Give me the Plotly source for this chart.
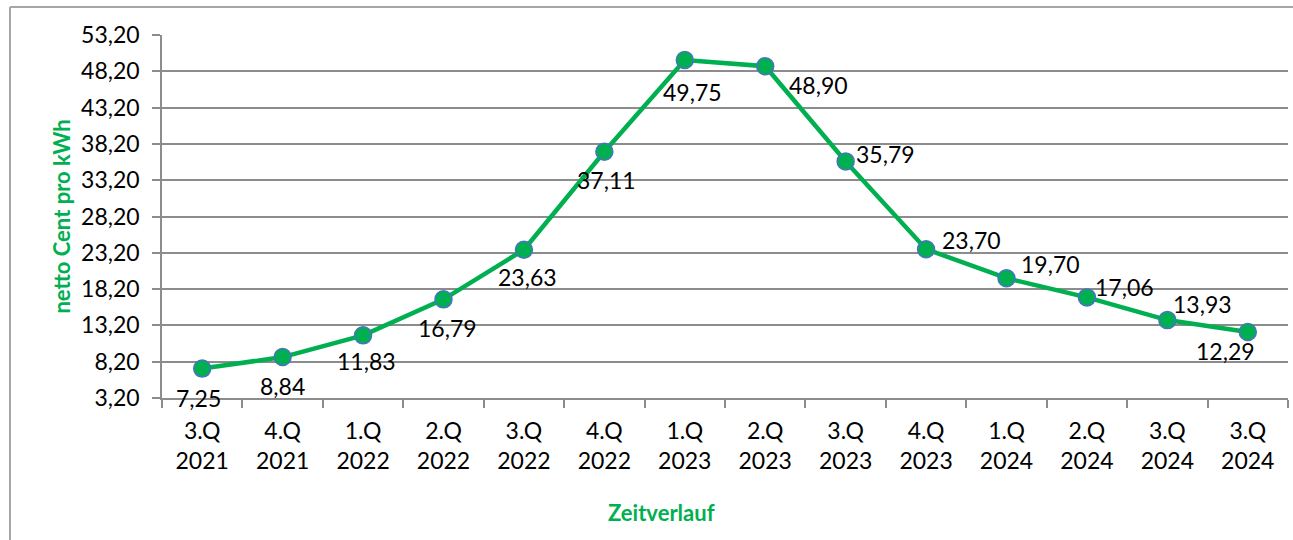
import plotly.graph_objects as go

# Quarterly net price, cents per kWh
quarters = ["3.Q<br>2021", "4.Q<br>2021", "1.Q<br>2022", "2.Q<br>2022", "3.Q<br>2022",
            "4.Q<br>2022", "1.Q<br>2023", "2.Q<br>2023", "3.Q<br>2023", "4.Q<br>2023",
            "1.Q<br>2024", "2.Q<br>2024", "3.Q<br>2024", "3.Q<br>2024"]
prices = [7.25, 8.84, 11.83, 16.79, 23.63, 37.11, 49.75, 48.90, 35.79, 23.70,
          19.70, 17.06, 13.93, 12.29]
y_ticks = [3.2, 8.2, 13.2, 18.2, 23.2, 28.2, 33.2, 38.2, 43.2, 48.2, 53.2]

# label placement (pixel shifts relative to each point)
label_dx = [-4, 0, 3, 4, 4, 2, 8, 53, 40, 45, 44, 38, 35, -22]
label_dy = [-29, -29, -26, -29, -27, -28, -32, -19, 7, 9, 14, 10, 16, -19]

GREEN = "#00B050"
GRID = "#8C8C8C"
FONT = "Lato"
TXT = 23

def de(v):
    return f"{v:.2f}".replace(".", ",")

xs = list(range(len(prices)))

fig = go.Figure()
fig.add_trace(go.Scatter(
    x=xs, y=prices, mode="lines+markers",
    line=dict(color=GREEN, width=4.5),
    marker=dict(size=17, color=GREEN, line=dict(color="#4A72C4", width=1.5)),
    hoverinfo="skip", showlegend=False,
))

for x, v, dx, dy in zip(xs, prices, label_dx, label_dy):
    fig.add_annotation(x=x, y=v, text=de(v), showarrow=False,
                       xshift=dx, yshift=dy,
                       font=dict(family=FONT, size=TXT, color="black"))

W, H = 1293, 540
ml, mr, mt, mb = 162, 5, 35, 142
pw, ph = W - ml - mr, H - mt - mb

def px(x):
    return (x - ml) / pw

def py(y):
    return (H - mb - y) / ph

# chart frame (left and top edges)
frame = dict(color="#A6A6A6", width=2)
fig.add_shape(type="line", xref="paper", yref="paper",
              x0=px(10), x1=px(10), y0=py(7), y1=py(560), line=frame)
fig.add_shape(type="line", xref="paper", yref="paper",
              x0=px(10), x1=px(1310), y0=py(7), y1=py(7), line=frame)

fig.add_annotation(xref="paper", yref="paper", x=px(661), y=py(512),
                   xanchor="center", yanchor="middle",
                   text="<b>Zeitverlauf</b>", showarrow=False,
                   font=dict(family=FONT, size=22, color=GREEN))

fig.update_layout(
    width=W, height=H,
    margin=dict(l=ml, r=mr, t=mt, b=mb),
    paper_bgcolor="white", plot_bgcolor="white",
    font=dict(family=FONT, size=TXT, color="black"),
    xaxis=dict(
        range=[-0.5, len(prices) - 0.5],
        tickmode="array", tickvals=xs, ticktext=quarters,
        ticks="", showgrid=False, zeroline=False,
        showline=True, linecolor=GRID, linewidth=1.5,
        tickfont=dict(family=FONT, size=TXT, color="black"),
        ticklabelstandoff=12,
        minor=dict(tickvals=[i - 0.5 for i in range(len(prices) + 1)],
                   ticks="outside", ticklen=8, tickcolor=GRID, tickwidth=1.5,
                   showgrid=False),
        fixedrange=True,
    ),
    yaxis=dict(
        range=[3.2, 53.2],
        tickmode="array", tickvals=y_ticks, ticktext=[de(v) for v in y_ticks],
        ticks="outside", ticklen=8, tickcolor=GRID, tickwidth=1.5,
        showgrid=True, gridcolor=GRID, gridwidth=1.5, zeroline=False,
        showline=True, linecolor=GRID, linewidth=1.5,
        tickfont=dict(family=FONT, size=TXT, color="black"),
        ticklabelstandoff=8,
        title=dict(text="<b>netto Cent pro kWh</b>",
                   font=dict(family=FONT, size=22, color=GREEN), standoff=4),
        fixedrange=True,
    ),
)

fig.write_html("out.html")
